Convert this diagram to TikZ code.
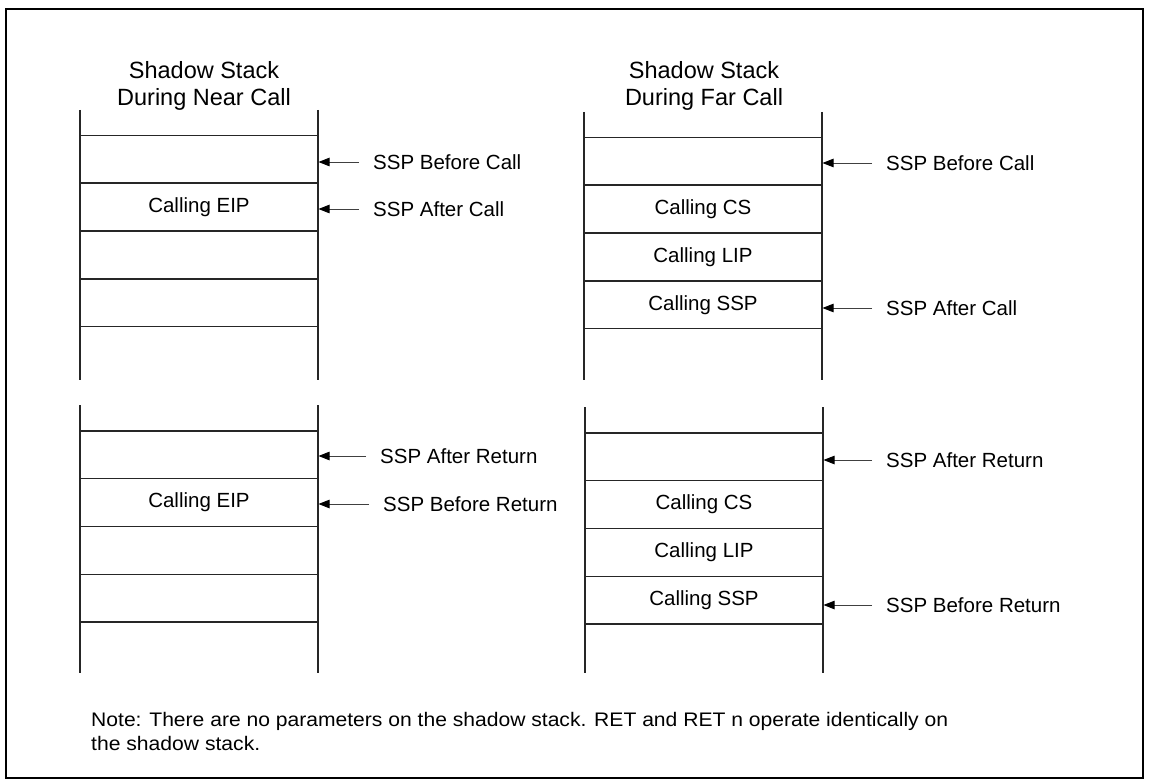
\documentclass[tikz,border=0pt]{standalone}
\usepackage{fontspec}
\setmainfont{Liberation Sans}
\usepackage{graphicx}
\usetikzlibrary{arrows.meta}
\begin{document}
\begin{tikzpicture}[x=1pt,y=-1pt,
  cell/.style={draw=black!85,line width=1.1pt,minimum width=238pt,minimum height=47.75pt,inner sep=0pt,
    font=\fontsize{20.5}{24}\selectfont},
  side/.style={draw=black!85,line width=1.1pt},
  lab/.style={anchor=west,inner xsep=14pt,inner ysep=0pt,font=\fontsize{20.5}{24}\selectfont},
  arr/.style={draw=black!75,line width=0.9pt,-{Triangle[length=11pt,width=8.5pt,fill=black,color=black]}},
  ttl/.style={align=center,font=\fontsize{23.5}{27.5}\selectfont,inner sep=0pt},
  note/.style={anchor=base west,inner sep=0pt,font=\fontsize{19.6}{24}\selectfont}]
\useasboundingbox (0,0) rectangle (1150,783);
\draw[line width=2.5pt] (6,9) rectangle (1143,778);
% titles
\node[ttl] (t1) at (204,86) {Shadow Stack\\During Near Call};
\node[ttl] (t2) at (704,86) {Shadow Stack\\During Far Call};
% top-left stack
\draw[side] (80,110) -- (80,380);
\draw[side] (318,110) -- (318,380);
\node[cell] (a1) at (199,159) {};
\node[cell] (a2) at (199,207) {Calling EIP};
\node[cell] (a3) at (199,255) {};
\node[cell] (a4) at (199,303) {};
\node[lab] (la1) at (359,162) {SSP Before Call};
\node[lab] (la2) at (359,209) {SSP After Call};
\draw[arr] (la1.west) -- (a1.east |- la1.west);
\draw[arr] (la2.west) -- (a2.east |- la2.west);
% top-right stack
\draw[side] (584,112) -- (584,380);
\draw[side] (822,112) -- (822,380);
\node[cell] (b1) at (703,161) {};
\node[cell] (b2) at (703,209) {Calling CS};
\node[cell] (b3) at (703,257) {Calling LIP};
\node[cell] (b4) at (703,305) {Calling SSP};
\node[lab] (lb1) at (872,163) {SSP Before Call};
\node[lab] (lb2) at (872,308) {SSP After Call};
\draw[arr] (lb1.west) -- (b1.east |- lb1.west);
\draw[arr] (lb2.west) -- (b4.east |- lb2.west);
% bottom-left stack
\draw[side] (80,405) -- (80,673);
\draw[side] (318,405) -- (318,673);
\node[cell] (c1) at (199,454.9) {};
\node[cell] (c2) at (199,502.6) {Calling EIP};
\node[cell] (c3) at (199,550.4) {};
\node[cell] (c4) at (199,598.1) {};
\node[lab] (lc1) at (366,456) {SSP After Return};
\node[lab] (lc2) at (369,504) {SSP Before Return};
\draw[arr] (lc1.west) -- (c1.east |- lc1.west);
\draw[arr] (lc2.west) -- (c2.east |- lc2.west);
% bottom-right stack
\draw[side] (585,407) -- (585,673);
\draw[side] (823,407) -- (823,673);
\node[cell] (d1) at (704,456.9) {};
\node[cell] (d2) at (704,504.6) {Calling CS};
\node[cell] (d3) at (704,552.4) {Calling LIP};
\node[cell] (d4) at (704,600.1) {Calling SSP};
\node[lab] (ld1) at (872,460) {SSP After Return};
\node[lab] (ld2) at (872,605) {SSP Before Return};
\draw[arr] (ld1.west) -- (d1.east |- ld1.west);
\draw[arr] (ld2.west) -- (d4.east |- ld2.west);
% note
\node[note] (n1) at (91,726)
  {\resizebox{857pt}{\height}{Note: There are no parameters on the shadow stack. RET and RET n operate identically on}};
\node[note] (n2) at (91,750)
  {\resizebox{169pt}{\height}{the shadow stack.}};
\end{tikzpicture}
\end{document}
